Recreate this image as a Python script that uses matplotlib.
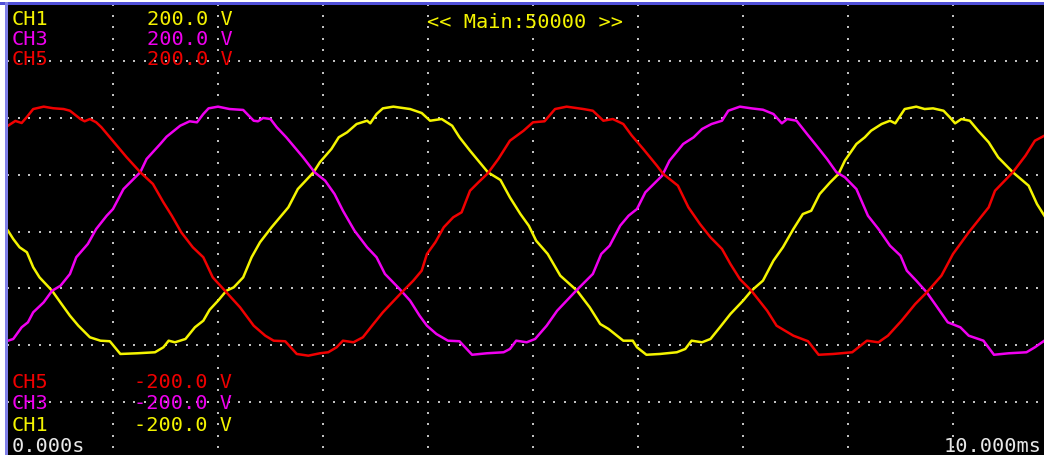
import numpy as np
import matplotlib
matplotlib.use("Agg")
import matplotlib.pyplot as plt
from matplotlib.patches import Rectangle

ch1_t = [0.00, 0.05, 0.11, 0.18, 0.24, 0.30, 0.42, 0.51, 0.59, 0.67, 0.78, 0.88, 0.97, 1.07, 1.23,
         1.40, 1.48, 1.53, 1.59, 1.69, 1.78, 1.86, 1.92, 2.00, 2.08, 2.15, 2.24, 2.32, 2.40, 2.51,
         2.59, 2.67, 2.76, 2.91, 2.97, 3.08, 3.15, 3.23, 3.32, 3.42, 3.45, 3.51, 3.57, 3.67, 3.83,
         3.94, 4.02, 4.13, 4.23, 4.30, 4.40, 4.57, 4.69, 4.78, 4.88, 4.96, 5.03, 5.14, 5.26, 5.42,
         5.54, 5.64, 5.72, 5.80, 5.86, 5.95, 5.99, 6.08, 6.21, 6.37, 6.45, 6.51, 6.61, 6.69, 6.78,
         6.88, 7.00, 7.08, 7.19, 7.29, 7.38, 7.48, 7.57, 7.65, 7.73, 7.83, 7.91, 7.97, 8.08, 8.16,
         8.22, 8.32, 8.40, 8.45, 8.54, 8.65, 8.73, 8.81, 8.91, 8.97, 9.02, 9.08, 9.16, 9.24, 9.34,
         9.43, 9.57, 9.72, 9.80, 9.87]
ch1_v = [0.7, -6.6, -13.9, -18.3, -31.5, -40.4, -52.2, -63.9, -74.2, -83.0, -93.2, -96.2, -96.7,
         -107.9, -107.3, -106.4, -102.0, -96.2, -97.6, -94.7, -84.4, -78.6, -69.0, -61.0, -52.2,
         -49.2, -40.4, -22.7, -9.5, 3.7, 12.5, 21.3, 37.4, 52.2, 61.0, 72.7, 83.0, 87.4, 94.7,
         97.6, 95.3, 103.5, 108.5, 110.0, 107.9, 104.4, 97.6, 99.1, 93.2, 83.0, 71.2, 52.2, 45.4,
         30.1, 15.4, 5.1, -8.1, -19.8, -38.9, -52.2, -66.8, -81.5, -85.9, -91.8, -96.2, -96.2,
         -102.0, -108.6, -107.9, -106.4, -103.5, -96.2, -97.6, -94.7, -84.4, -72.7, -61.0, -52.2,
         -43.3, -25.7, -13.9, 2.2, 15.4, 18.3, 33.0, 43.3, 50.7, 62.4, 77.1, 83.0, 88.8, 94.7,
         97.6, 95.3, 107.9, 110.0, 107.9, 108.5, 106.4, 100.6, 95.3, 99.1, 97.6, 88.8, 78.6,
         65.4, 52.2, 40.4, 24.2, 13.9]

ch3_t = [0.00, 0.05, 0.13, 0.19, 0.24, 0.34, 0.42, 0.50, 0.59, 0.65, 0.76, 0.84, 0.94, 1.00, 1.10,
         1.26, 1.32, 1.45, 1.51, 1.64, 1.73, 1.80, 1.86, 1.91, 2.00, 2.11, 2.24, 2.34, 2.38, 2.43,
         2.50, 2.56, 2.65, 2.73, 2.81, 2.92, 3.02, 3.11, 3.19, 3.30, 3.42, 3.51, 3.59, 3.73, 3.83,
         3.92, 3.99, 4.08, 4.19, 4.30, 4.42, 4.56, 4.72, 4.78, 4.84, 4.94, 5.02, 5.13, 5.23, 5.41,
         5.57, 5.65, 5.73, 5.83, 5.91, 5.99, 6.07, 6.23, 6.30, 6.43, 6.53, 6.61, 6.70, 6.80, 6.86,
         6.97, 7.08, 7.19, 7.29, 7.37, 7.42, 7.51, 7.61, 7.70, 7.80, 7.89, 7.97, 8.08, 8.19, 8.29,
         8.40, 8.50, 8.56, 8.65, 8.75, 8.84, 8.95, 9.07, 9.15, 9.29, 9.39, 9.53, 9.70, 9.78, 9.87]
ch3_v = [-96.2, -94.7, -84.4, -80.0, -71.2, -62.4, -52.2, -47.8, -37.4, -22.7, -11.0, 2.2, 13.9,
         19.8, 37.4, 52.2, 63.9, 77.1, 83.5, 93.2, 97.1, 96.2, 103.5, 108.5, 110.0, 107.9, 107.1,
         97.6, 97.1, 100.0, 99.1, 91.8, 83.0, 74.2, 65.4, 52.2, 44.8, 33.0, 18.3, 0.7, -13.9,
         -22.7, -37.4, -50.7, -61.0, -74.2, -83.0, -90.3, -96.2, -96.7, -108.6, -107.3, -106.4,
         -103.5, -96.2, -97.6, -94.7, -83.0, -69.8, -52.2, -37.4, -19.8, -12.5, 5.1, 13.9, 19.8,
         34.5, 49.2, 62.4, 77.1, 83.0, 90.3, 94.7, 97.6, 106.4, 110.0, 108.5, 107.3, 103.5, 95.3,
         99.1, 97.6, 85.9, 75.6, 63.9, 52.2, 47.8, 37.4, 13.9, 2.2, -12.5, -21.3, -34.5, -43.3,
         -53.6, -65.4, -80.0, -84.4, -91.8, -96.2, -108.6, -107.3, -106.4, -102.0, -96.2]

ch5_t = [0.00, 0.07, 0.13, 0.18, 0.24, 0.34, 0.43, 0.53, 0.59, 0.69, 0.73, 0.78, 0.84, 0.89, 0.97,
         1.05, 1.13, 1.26, 1.38, 1.48, 1.56, 1.65, 1.76, 1.86, 1.95, 2.08, 2.21, 2.34, 2.45, 2.53,
         2.64, 2.75, 2.86, 2.97, 3.05, 3.13, 3.19, 3.29, 3.38, 3.48, 3.57, 3.75, 3.86, 3.94, 3.99,
         4.07, 4.15, 4.24, 4.32, 4.40, 4.48, 4.57, 4.67, 4.78, 4.91, 5.00, 5.11, 5.21, 5.32, 5.48,
         5.57, 5.67, 5.76, 5.86, 5.94, 6.05, 6.18, 6.24, 6.38, 6.48, 6.59, 6.69, 6.80, 6.88, 6.97,
         7.08, 7.23, 7.32, 7.48, 7.62, 7.72, 7.86, 8.04, 8.18, 8.29, 8.38, 8.51, 8.64, 8.75, 8.89,
         9.00, 9.15, 9.34, 9.40, 9.57, 9.69, 9.78, 9.87]
ch5_v = [93.2, 97.4, 95.6, 100.9, 107.9, 110.0, 108.6, 107.9, 106.4, 99.1, 97.1, 99.1, 96.2, 91.8,
         83.0, 74.2, 65.4, 52.2, 41.9, 25.7, 13.9, -0.7, -13.9, -22.7, -40.4, -53.6, -66.8, -83.0,
         -91.8, -96.2, -96.7, -107.9, -109.4, -107.3, -106.4, -102.0, -96.2, -97.6, -93.2, -81.5,
         -71.2, -53.6, -43.3, -34.5, -19.8, -9.5, 3.7, 12.5, 16.9, 35.9, 43.3, 51.3, 63.9, 80.0,
         88.8, 96.2, 97.1, 107.9, 110.0, 107.9, 106.4, 97.6, 99.1, 94.7, 84.6, 72.7, 58.0, 50.7,
         40.4, 21.3, 6.6, -5.1, -15.4, -28.6, -41.9, -52.2, -69.8, -83.0, -91.8, -96.7, -108.6,
         -107.9, -106.4, -96.2, -97.6, -91.8, -78.6, -63.9, -53.6, -38.9, -19.8, -0.7, 21.3, 35.9,
         52.2, 66.8, 80.0, 84.4]

channels = ["CH1", "CH3", "CH5"]
colors = {"CH1": "#f4f400", "CH3": "#f000f0", "CH5": "#f00000"}
volts_div = "200.0"
t_start = "0.000s"
t_end = "10.000ms"
title = "<< Main:50000 >>"

W, H = 1044, 456
fig = plt.figure(figsize=(W / 100, H / 100), dpi=100, facecolor="white")

# screen: 10 divisions wide (x 8..1058 px), 8 divisions high (y 5.5..459.5 px)
ax = fig.add_axes([8 / W, (H - 459.5) / H, 1050 / W, 454 / H])
ax.set_facecolor("black")
ax.set_xlim(0, 10)
ax.set_ylim(-200, 200)
ax.set_axis_off()
ax.add_patch(Rectangle((0, -200), 10, 400, color="black", zorder=0))

# dotted graticule
dot = "#c0c0c0"
for v in [-150, -100, -50, 0, 50, 100, 150]:
    xs = np.arange(0, 10.01, 0.1)
    ax.scatter(xs, np.full_like(xs, v), s=2.2, marker="s", color=dot, linewidths=0, zorder=1)
for t in range(1, 10):
    ys = np.arange(-200, 200.1, 10)
    ax.scatter(np.full_like(ys, t), ys, s=2.2, marker="s", color=dot, linewidths=0, zorder=1)

ax.plot(ch1_t, ch1_v, color=colors["CH1"], lw=1.8, zorder=3)
ax.plot(ch3_t, ch3_v, color=colors["CH3"], lw=1.8, zorder=3)
ax.plot(ch5_t, ch5_v, color=colors["CH5"], lw=1.8, zorder=4)

# window border
fig.add_artist(Rectangle((0, 1 - 5.5 / H), 1, 2.5 / H, transform=fig.transFigure,
                         color="#5050d8", lw=0))
fig.add_artist(Rectangle((5 / W, 0), 3 / W, 1 - 3 / H, transform=fig.transFigure,
                         color="#8080e8", lw=0))

font = dict(family="DejaVu Sans Mono", fontsize=14.6, va="baseline")


def px(x, y):
    return x / W, 1 - y / H


top_rows = [25, 45, 65]
for name, y in zip(channels, top_rows):
    fig.text(*px(12, y), name, color=colors[name], **font)
    fig.text(*px(147, y), volts_div + " V", color=colors[name], **font)

bot_rows = [388, 409, 431]
for name, y in zip(channels[::-1], bot_rows):
    fig.text(*px(12, y), name, color=colors[name], **font)
    fig.text(*px(134, y), "-" + volts_div + " V", color=colors[name], **font)

fig.text(*px(12, 452), t_start, color="#e8e8e8", **font)
fig.text(*px(1042, 452), t_end, color="#e8e8e8", ha="right",
         **{k: v for k, v in font.items()})
fig.text(*px(427, 28), title, color=colors["CH1"], **font)

fig.savefig("out.png", dpi=100, facecolor="white")
